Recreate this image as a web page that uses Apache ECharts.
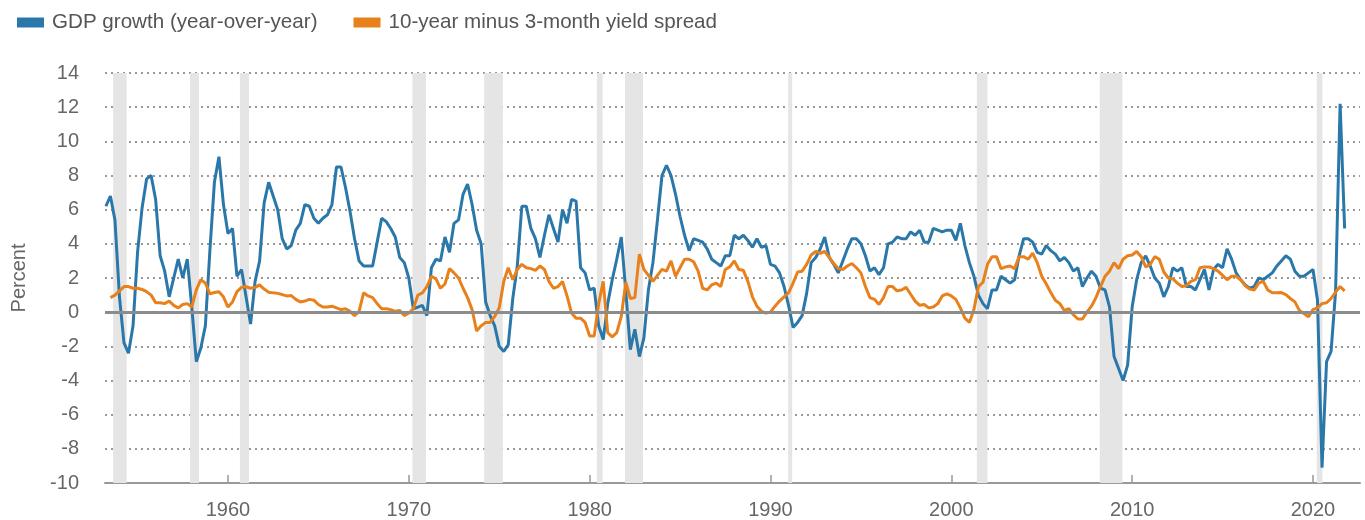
<!DOCTYPE html>
<html>
<head>
<meta charset="utf-8">
<title>GDP growth and yield spread</title>
<script src="https://cdn.jsdelivr.net/npm/echarts@6/dist/echarts.min.js"></script>
<style>
  html, body { margin: 0; padding: 0; background: #fff; }
  #chart { width: 1365px; height: 520px; }
</style>
</head>
<body>
<div id="chart"></div>
<script>
// quarterly data, each value dated at the end of its quarter
const gdpStart = 1953.25;     // 1953Q1
const spreadStart = 1953.5;   // 1953Q2

// real GDP growth, year-over-year, percent (1953Q1 - 2021Q3)
const gdpGrowth = [
  6.2, 6.8, 5.4, 0.9, -1.8, -2.4, -0.8, 3.5, 6.1, 7.8,
  8.0, 6.6, 3.3, 2.4, 0.9, 2.0, 3.1, 2.0, 3.1, 0.3,
  -2.9, -2.1, -0.8, 3.6, 7.6, 9.1, 6.3, 4.6, 4.9, 2.1,
  2.5, 0.9, -0.7, 1.8, 3.0, 6.4, 7.6, 6.8, 6.0, 4.3,
  3.7, 3.9, 4.8, 5.2, 6.3, 6.2, 5.5, 5.2, 5.5, 5.7,
  6.3, 8.5, 8.5, 7.3, 5.9, 4.3, 3.0, 2.7, 2.7, 2.7,
  4.1, 5.5, 5.3, 4.9, 4.4, 3.2, 2.9, 2.0, 0.2, 0.3,
  0.4, -0.2, 2.6, 3.1, 3.0, 4.4, 3.5, 5.2, 5.4, 6.9,
  7.5, 6.3, 4.8, 4.0, 0.6, -0.2, -0.8, -2.0, -2.3, -1.9,
  0.8, 2.7, 6.2, 6.2, 4.9, 4.3, 3.2, 4.5, 5.7, 4.9,
  4.1, 6.0, 5.2, 6.6, 6.5, 2.6, 2.3, 1.3, 1.4, -0.8,
  -1.6, 0.5, 1.9, 3.1, 4.4, 1.2, -2.2, -1.0, -2.6, -1.5,
  1.3, 2.9, 5.4, 8.0, 8.6, 8.0, 6.9, 5.6, 4.5, 3.6,
  4.3, 4.2, 4.1, 3.7, 3.1, 2.9, 2.7, 3.3, 3.3, 4.5,
  4.3, 4.5, 4.2, 3.8, 4.3, 3.8, 3.9, 2.8, 2.7, 2.3,
  1.5, 0.4, -0.9, -0.6, -0.2, 1.1, 2.9, 3.2, 3.7, 4.4,
  3.2, 2.8, 2.3, 3.0, 3.7, 4.3, 4.3, 4.0, 3.3, 2.4,
  2.6, 2.2, 2.6, 4.0, 4.1, 4.4, 4.3, 4.3, 4.7, 4.5,
  4.8, 4.1, 4.1, 4.9, 4.8, 4.7, 4.8, 4.8, 4.2, 5.2,
  3.9, 2.9, 2.1, 1.0, 0.5, 0.2, 1.3, 1.3, 2.1, 1.9,
  1.7, 1.9, 3.3, 4.3, 4.3, 4.1, 3.5, 3.4, 3.9, 3.6,
  3.4, 3.0, 3.2, 2.9, 2.4, 2.6, 1.5, 2.0, 2.4, 2.1,
  1.4, 1.3, 0.3, -2.6, -3.3, -4.0, -3.1, 0.3, 1.9, 2.9,
  3.3, 2.7, 2.0, 1.7, 0.9, 1.5, 2.6, 2.4, 2.6, 1.5,
  1.5, 1.3, 1.9, 2.5, 1.3, 2.5, 2.8, 2.6, 3.7, 3.1,
  2.3, 1.9, 1.6, 1.4, 1.5, 2.0, 1.9, 2.1, 2.3, 2.7,
  3.0, 3.3, 3.1, 2.4, 2.1, 2.1, 2.3, 2.5, 0.7, -9.1,
  -2.9, -2.3, 1.2, 12.2, 4.9
];

// 10-year minus 3-month treasury yield, percentage points (1953Q2 - 2021Q3)
const yieldSpread = [
  0.85, 1.0, 1.25, 1.5, 1.5, 1.4, 1.4, 1.33, 1.2, 1.0,
  0.55, 0.55, 0.5, 0.65, 0.4, 0.25, 0.45, 0.5, 0.3, 1.3,
  1.9, 1.7, 1.07, 1.15, 1.2, 0.9, 0.3, 0.6, 1.2, 1.45,
  1.5, 1.4, 1.45, 1.6, 1.35, 1.17, 1.13, 1.1, 1.03, 0.95,
  0.97, 0.75, 0.6, 0.65, 0.75, 0.7, 0.45, 0.3, 0.3, 0.35,
  0.25, 0.15, 0.2, 0.05, -0.2, 0.05, 1.13, 0.95, 0.85, 0.5,
  0.2, 0.2, 0.15, 0.05, 0.1, -0.2, -0.05, 0.2, 1.0, 1.13,
  1.5, 2.1, 1.95, 1.4, 1.65, 2.55, 2.3, 2.0, 1.4, 0.85,
  0.15, -1.1, -0.8, -0.6, -0.6, -0.25, 0.25, 1.8, 2.6, 1.9,
  2.5, 2.8, 2.6, 2.55, 2.45, 2.7, 2.5, 1.8, 1.4, 1.5,
  1.8, 0.95, -0.05, -0.35, -0.35, -0.6, -1.4, -1.4, 0.5, 1.8,
  -1.2, -1.45, -1.2, -0.25, 1.75, 0.8, 0.85, 3.4, 2.5, 2.15,
  1.8, 2.15, 2.5, 2.4, 3.0, 2.1, 2.6, 3.1, 3.1, 2.95,
  2.4, 1.4, 1.3, 1.6, 1.7, 1.5, 2.5, 2.65, 3.0, 2.5,
  2.45, 1.8, 0.9, 0.35, 0.05, -0.05, 0.0, 0.35, 0.65, 0.9,
  1.13, 1.7, 2.35, 2.4, 2.8, 3.35, 3.55, 3.45, 3.55, 3.2,
  2.85, 2.55, 2.5, 2.7, 2.85, 2.6, 2.3, 1.5, 0.85, 0.75,
  0.45, 0.85, 1.5, 1.5, 1.25, 1.3, 1.45, 1.05, 0.65, 0.4,
  0.45, 0.25, 0.3, 0.5, 0.95, 1.07, 0.95, 0.75, 0.25, -0.35,
  -0.6, 0.15, 1.5, 1.75, 2.8, 3.25, 3.25, 2.55, 2.65, 2.7,
  2.55, 3.25, 3.25, 3.1, 3.45, 2.9, 2.1, 1.65, 1.15, 0.7,
  0.5, 0.1, 0.2, -0.15, -0.4, -0.4, 0.0, 0.35, 0.85, 1.5,
  2.1, 2.4, 2.9, 2.55, 3.1, 3.3, 3.35, 3.55, 3.25, 2.65,
  2.8, 3.25, 3.1, 2.35, 2.0, 1.95, 1.7, 1.5, 1.55, 1.8,
  1.9, 2.6, 2.65, 2.65, 2.55, 2.4, 2.15, 1.9, 2.1, 2.1,
  1.9, 1.55, 1.35, 1.3, 1.7, 1.8, 1.3, 1.13, 1.13, 1.15,
  1.03, 0.8, 0.6, 0.1, -0.08, -0.27, 0.15, 0.25, 0.5, 0.55,
  0.8, 1.17, 1.5, 1.25
];

// recession periods (shaded), in decimal years
const recessionStart = [1953.65, 1957.9, 1960.66, 1970.2, 1974.17, 1980.4, 1981.95, 1990.98, 2001.41, 2008.21, 2020.21];
const recessionEnd   = [1954.4, 1958.4, 1961.16, 1970.95, 1975.2, 1980.72, 1982.95, 1991.2, 2002.0, 2009.46, 2020.52];

const xTicks = [1960, 1970, 1980, 1990, 2000, 2010, 2020];
const seriesNames = ['GDP growth (year-over-year)', '10-year minus 3-month yield spread'];

function quarterly(start, values) {
  return values.map(function (v, i) { return [start + i * 0.25, v]; });
}

var myChart = echarts.init(document.getElementById('chart'));
var font = '"Liberation Sans", Arial, Helvetica, sans-serif';

var option = {
  animation: false,
  textStyle: { fontFamily: font },
  legend: {
    left: 12,
    top: 7,
    icon: 'rect',
    itemWidth: 27,
    itemHeight: 10,
    itemGap: 36,
    textStyle: { fontSize: 20.6, color: '#555', fontFamily: font, padding: [0, 0, 0, 3] },
    data: seriesNames
  },
  grid: { left: 105, right: 5, top: 73, bottom: 35 },
  xAxis: {
    type: 'value',
    min: 1953.2,
    max: 2022.6,
    axisLine: { onZero: false, lineStyle: { color: '#999', width: 2 } },
    axisTick: { show: true, inside: true, length: 8, customValues: xTicks, lineStyle: { color: '#999', width: 1.5 } },
    axisLabel: {
      customValues: xTicks,
      fontSize: 20,
      color: '#666',
      margin: 17,
      formatter: function (v) { return String(v); }
    },
    splitLine: { show: false }
  },
  yAxis: {
    type: 'value',
    min: -10,
    max: 14,
    interval: 2,
    name: 'Percent',
    nameLocation: 'middle',
    nameGap: 76,
    nameTextStyle: { fontSize: 20, color: '#666' },
    axisLine: { show: false },
    axisTick: { show: false },
    axisLabel: { fontSize: 20, color: '#666', margin: 26 },
    splitLine: { lineStyle: { type: [2, 4], color: '#999', width: 2 } }
  },
  series: [
    {
      // recession shading
      type: 'line',
      data: [],
      z: 1,
      silent: true,
      markArea: {
        silent: true,
        itemStyle: { color: '#e5e5e5' },
        data: recessionStart.map(function (s, i) { return [{ xAxis: s }, { xAxis: recessionEnd[i] }]; })
      }
    },
    {
      // zero line
      type: 'line',
      data: [],
      z: 2,
      silent: true,
      markLine: {
        silent: true,
        symbol: ['none', 'none'],
        label: { show: false },
        lineStyle: { color: '#8c8c8c', width: 3, type: 'solid' },
        data: [{ yAxis: 0 }]
      }
    },
    {
      name: seriesNames[0],
      type: 'line',
      data: quarterly(gdpStart, gdpGrowth),
      showSymbol: false,
      z: 3,
      lineStyle: { width: 3, color: '#2a77aa' },
      itemStyle: { color: '#2a77aa' },
      emphasis: { disabled: true }
    },
    {
      name: seriesNames[1],
      type: 'line',
      data: quarterly(spreadStart, yieldSpread),
      showSymbol: false,
      z: 4,
      lineStyle: { width: 3, color: '#e8801c' },
      itemStyle: { color: '#e8801c' },
      emphasis: { disabled: true }
    }
  ]
};
myChart.setOption(option);
</script>
</body>
</html>
